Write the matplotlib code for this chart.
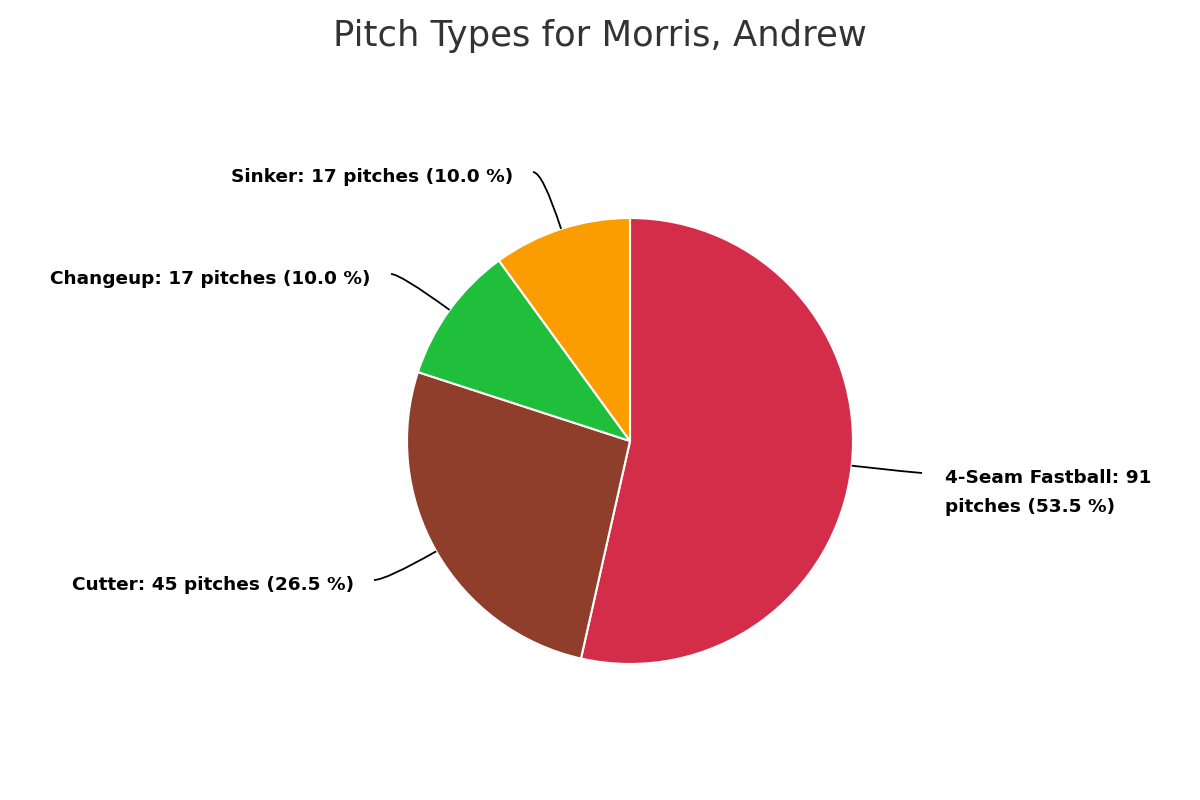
import numpy as np
import matplotlib
matplotlib.use("Agg")
import matplotlib.pyplot as plt
from matplotlib.path import Path
from matplotlib.patches import PathPatch

plt.rcParams["font.family"] = ["DejaVu Sans"]

categories = ["4-Seam Fastball", "Cutter", "Changeup", "Sinker"]
counts = [91, 45, 17, 17]
percents = [53.5, 26.5, 10.0, 10.0]
colors = ["#d42d4a", "#8f3e2b", "#1fbf3b", "#fb9d00"]
title = "Pitch Types for Morris, Andrew"

W, H = 1200, 800
fig = plt.figure(figsize=(12, 8), dpi=100)
ax = fig.add_axes([0, 0, 1, 1])

cx, cy, R = 630, H - 441, 223
wedges, _ = ax.pie(counts, colors=colors, startangle=90, counterclock=False,
                   center=(cx, cy), radius=R, frame=True,
                   wedgeprops=dict(edgecolor="white", linewidth=1.5))
ax.set_xlim(0, W)
ax.set_ylim(0, H)
ax.set_aspect("equal")
ax.axis("off")

# label anchor points (pixel coords, top-down)
label_anchor = [(922, 473), (374, 580), (391, 274), (533, 172)]
label_text = [
    f"{categories[0]}: {counts[0]}\npitches ({percents[0]:.1f} %)",
    f"{categories[1]}: {counts[1]} pitches ({percents[1]:.1f} %)",
    f"{categories[2]}: {counts[2]} pitches ({percents[2]:.1f} %)",
    f"{categories[3]}: {counts[3]} pitches ({percents[3]:.1f} %)",
]

FS = 13.3
for w, (axp, ayp), txt in zip(wedges, label_anchor, label_text):
    ang = np.deg2rad((w.theta1 + w.theta2) / 2)
    ex, ey = cx + R * np.cos(ang), cy + R * np.sin(ang)
    tx, ty = axp, H - ayp
    right = tx > cx
    if abs(np.sin(ang)) > 1e-6:
        t = (ty - ey) / np.sin(ang)
        px = ex + t * np.cos(ang)
    else:
        px = tx
    lo, hi = sorted([ex, tx])
    px = min(max(px, lo), hi)
    path = Path([(ex, ey), (px, ty), (tx, ty)],
                [Path.MOVETO, Path.CURVE3, Path.CURVE3])
    ax.add_patch(PathPatch(path, fill=False, edgecolor="black", lw=1.3))
    if right:
        ax.text(tx + 23, ty + 4, txt, ha="left", va="top",
                fontsize=FS, fontweight="bold", color="black", linespacing=1.78)
    else:
        ax.text(tx - 20, ty - 5, txt, ha="right", va="center",
                fontsize=FS, fontweight="bold", color="black")

fig.text(0.5, 1 - 36 / H, title, ha="center", va="center", fontsize=25.5, color="#333333")

fig.savefig("out.png", dpi=100, facecolor="white")
